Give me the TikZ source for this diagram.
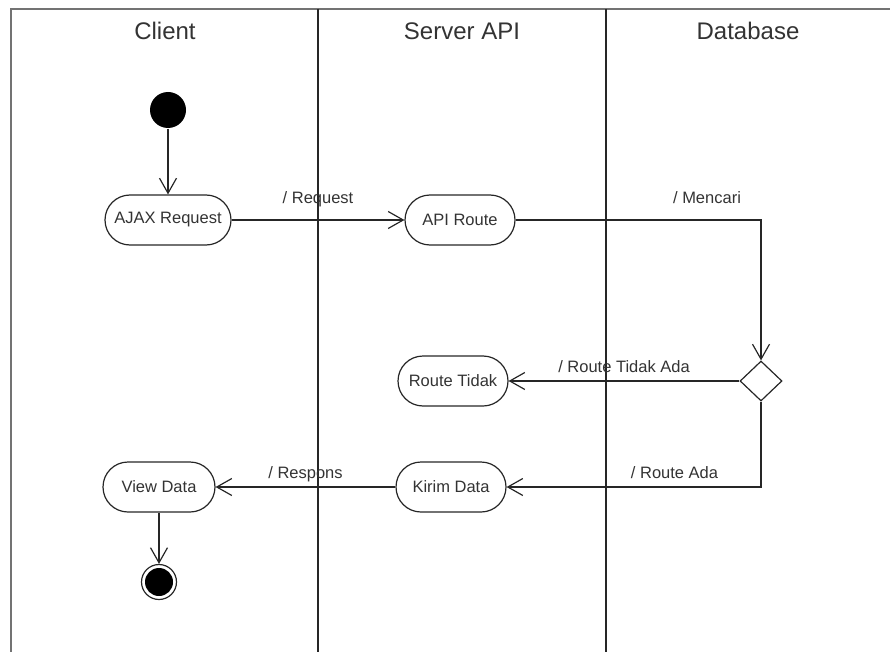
\documentclass[tikz,border=0pt]{standalone}
\usepackage{fontspec}
\setmainfont{Liberation Sans}
\usetikzlibrary{shapes.geometric,arrows.meta}

\tikzset{
	lane/.style={draw=black!85, line width=1.6pt},
	frame/.style={draw=black!55, line width=2pt},
	lanetitle/.style={font=\fontsize{24}{28}\selectfont, text=black!80},
	act/.style={draw, rounded corners=25pt, minimum height=50pt, minimum width=110pt, inner sep=0pt, text=black!80, font=\fontsize{16.5}{19}\selectfont},
	decision/.style={diamond, draw, inner sep=0pt, minimum width=42pt, minimum height=40pt},
	start/.style={circle, fill=black, minimum size=36pt, inner sep=0pt},
	stop/.style={circle, draw, minimum size=35pt, inner sep=0pt, path picture={\fill (path picture bounding box.center) circle (14pt);}},
	lbl/.style={font=\fontsize{16.5}{19}\selectfont, text=black!80, inner sep=0pt, anchor=base}
}

\begin{document}
\begin{tikzpicture}[x=1pt, y=-1pt, line width=1.2pt, draw=black!85, >={Straight Barb[length=15pt,width=17pt]}]
	\useasboundingbox (0,0) rectangle (890,652);
	% lanes
	\draw[frame] (11,652) -- (11,9) -- (890,9);
	\draw[lane] (318,9) -- (318,652);
	\draw[lane] (606,9) -- (606,652);
	\node[lanetitle] (client) at (165,31) {Client};
	\node[lanetitle] (server) at (462,31) {Server API};
	\node[lanetitle] (db) at (748,31) {Database};

	\node[start] (start) at (168,110) {};
	\node[act, minimum width=126pt] (ajax) at (168,220) {AJAX Request};
	\node[act] (route) at (460,220) {API Route};
	\node[decision] (cek) at (761,381) {};
	\node[act] (tidak) at (453,381) {Route Tidak};
	\node[act] (kirim) at (451,487) {Kirim Data};
	\node[act, minimum width=112pt] (view) at (159,487) {View Data};
	\node[stop] (stop) at (159,582) {};

	\draw[->] (start) -- (ajax);
	\draw[->] (ajax) -- node[lbl, yshift=16pt] {/ Request} (route);
	\draw[->] (route) -| node[lbl, yshift=16pt, pos=0.39] {/ Mencari} (cek);
	\draw[->] (cek) -- node[lbl, yshift=9pt] {/ Route Tidak Ada} (tidak);
	\draw[->] (cek) |- node[lbl, yshift=9pt, pos=0.67] {/ Route Ada} (kirim);
	\draw[->] (kirim) -- node[lbl, yshift=9pt] {/ Respons} (view);
	\draw[->] (view) -- (stop);
\end{tikzpicture}
\end{document}
